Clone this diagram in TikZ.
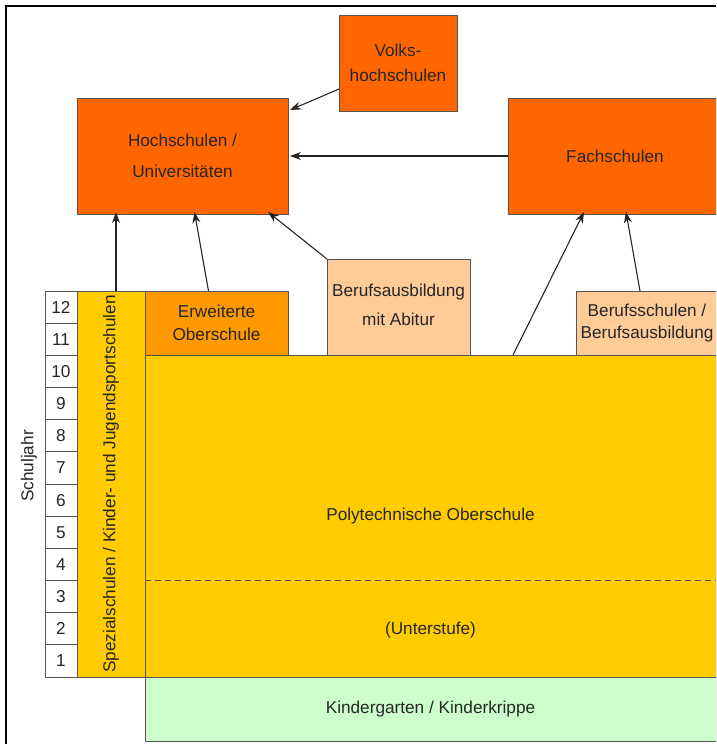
\documentclass[tikz,border=0pt]{standalone}
\usepackage{fontspec}
\setmainfont{Liberation Sans}
\usetikzlibrary{arrows.meta,calc}

\definecolor{darkorange}{HTML}{FF6600}
\definecolor{midorange}{HTML}{FF9900}
\definecolor{peach}{HTML}{FFCC99}
\definecolor{schoolyellow}{HTML}{FFCC00}
\definecolor{kitagreen}{HTML}{CCFFCC}
\definecolor{edgegray}{HTML}{555555}

\tikzset{
  box/.style={draw=edgegray, line width=0.9pt, inner sep=0pt, outer sep=0pt,
    align=center, text=black!85, font=\fontsize{17.2pt}{20.5pt}\selectfont},
  yearcell/.style={box, fill=white, minimum width=32pt, minimum height=32.17pt},
  link/.style={draw=black!85, line width=1.1pt, -{Stealth[length=11pt,width=8pt]}},
  label/.style={inner sep=0pt, text=black!85, font=\fontsize{17.2pt}{20.5pt}\selectfont}
}

\begin{document}
\begin{tikzpicture}[x=1pt,y=-1pt]
\useasboundingbox (0,0) rectangle (716,744);
\clip (0,0) rectangle (716,744);
\fill[white] (0,0) rectangle (716,744);

% outer frame (top and left edge)
\draw[line width=2pt, black] (5.5,744) -- (5.5,5.5) -- (716,5.5);

% upper level institutions
\node[box, fill=darkorange, minimum width=118pt, minimum height=96pt] (vhs) at (398,63)
  {Volks-\\[5pt]hochschulen};
\node[box, fill=darkorange, minimum width=211pt, minimum height=116pt] (hs) at (182.5,156)
  {Hochschulen /\\[11pt]Universitäten};
\node[box, fill=darkorange, minimum width=214pt, minimum height=116pt] (fach) at (615,156)
  {Fachschulen};

% school years column
\foreach \k in {1,...,12} {
  \node[yearcell] (y\k) at (61,{291+(12-\k)*32.17+16.085}) {\k};
}
\node[label, rotate=90] (sj) at (29,466) {Schuljahr};

% special schools column
\node[box, fill=schoolyellow, minimum width=68pt, minimum height=386pt] (spz) at (111,484) {};
\node[label, rotate=90] (spztext) at (spz.center) {Spezialschulen / Kinder- und Jugendsportschulen};

% upper secondary
\node[box, fill=midorange, minimum width=143pt, minimum height=64pt] (eos) at (216.5,323)
  {Erweiterte\\[2pt]Oberschule};
\node[box, fill=peach, minimum width=143pt, minimum height=96pt] (bma) at (398.5,307)
  {\raisebox{-5pt}{\begin{tabular}{@{}c@{}}Berufsausbildung\\[8pt]mit Abitur\end{tabular}}};
\node[box, fill=peach, minimum width=142pt, minimum height=64pt] (bs) at (647,323)
  {Berufsschulen /\\[2pt]Berufsausbildung};

% polytechnic school
\node[box, fill=schoolyellow, minimum width=571pt, minimum height=322pt] (pos) at (430.5,516)
  {Polytechnische Oberschule};
\draw[edgegray, line width=0.9pt, dashed, dash pattern=on 6pt off 4pt] (145,580) -- (716,580);
\node[label] (us) at (430.5,630) {(Unterstufe)};

% pre-school
\node[box, fill=kitagreen, minimum width=571pt, minimum height=64pt] (kita) at (430.5,709)
  {Kindergarten / Kinderkrippe};

% transitions
\draw[link] ($(vhs.south west)+(0,-22)$) -- ($(hs.north east)+(2,12)$);
\draw[link] (fach.west) -- ($(hs.east)+(2,0)$);
\draw[link] ($(spz.north)+(5,0)$) -- ($(hs.south west)+(39,-2)$);
\draw[link] ($(eos.north)+(-8,0)$) -- ($(hs.south)+(12,-2)$);
\draw[link] (bma.north west) -- ($(hs.south east)+(-20,-2)$);
\draw[link] ($(pos.north)+(82.5,0)$) -- ($(fach.south west)+(76,-2)$);
\draw[link] ($(bs.north)+(-7,0)$) -- ($(fach.south west)+(118,-2)$);
\end{tikzpicture}
\end{document}
